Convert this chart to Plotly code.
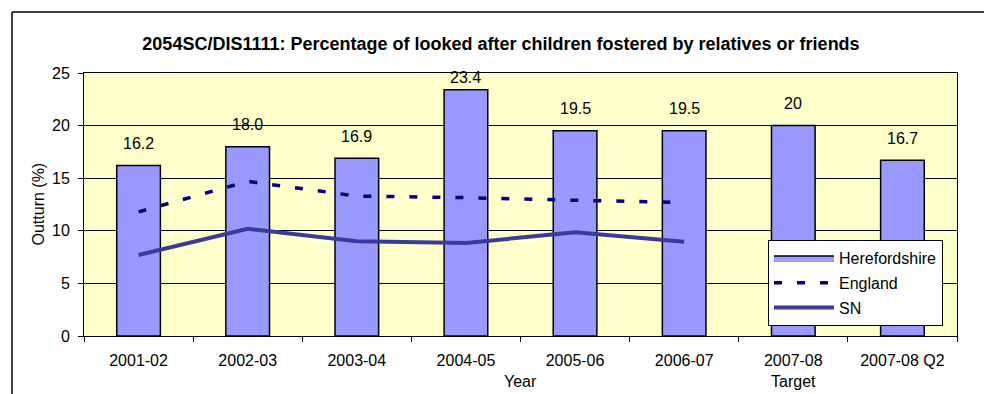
import plotly.graph_objects as go

categories = ["2001-02", "2002-03", "2003-04", "2004-05", "2005-06", "2006-07", "2007-08<br>Target", "2007-08 Q2"]
herefordshire = [16.2, 18.0, 16.9, 23.4, 19.5, 19.5, 20, 16.7]
herefordshire_labels = ["16.2", "18.0", "16.9", "23.4", "19.5", "19.5", "20", "16.7"]
england = [11.8, 14.7, 13.3, 13.15, 12.9, 12.7, None, None]
sn = [7.7, 10.2, 9.0, 8.85, 9.85, 8.95, None, None]

FONT = "Arial, Liberation Sans, sans-serif"
W, H = 984, 394
L, R, T, B = 84, 27, 73, 58
PW, PH = W - L - R, H - T - B

def px_x(p):
    return (p - L) / PW

def px_y(p):
    return (H - B - p) / PH

fig = go.Figure()
fig.add_trace(go.Bar(
    x=categories, y=herefordshire, name="Herefordshire", width=0.4,
    marker=dict(color="#9999FF", line=dict(color="#000000", width=1.5)),
    showlegend=False,
))
# legend-only proxy so the legend key is a wide filled box like the original
fig.add_trace(go.Scatter(
    x=[None], y=[None], name="Herefordshire", mode="lines", fill="toself",
    fillcolor="#9999FF", line=dict(color="#000000", width=1.5),
    legendgroup="a",
))
fig.add_trace(go.Scatter(
    x=categories, y=england, name="England", mode="lines",
    line=dict(color="#000080", width=3.5, dash="8px,15px"),
    legendgroup="b",
))
fig.add_trace(go.Scatter(
    x=categories, y=sn, name="SN", mode="lines",
    line=dict(color="#3A3A9C", width=4),
    legendgroup="c",
))

annotations = []
for c, v, t in zip(categories, herefordshire, herefordshire_labels):
    annotations.append(dict(
        x=c, y=min(v + 1.1, 23.6), text=t, showarrow=False,
        xref="x", yref="y", yanchor="bottom",
        font=dict(family=FONT, size=16, color="#000000"),
    ))
annotations.append(dict(
    x=0, y=0.5, xref="paper", yref="paper", xanchor="center", yanchor="middle",
    xshift=-(L - 38), text="Outturn (%)", textangle=-90, showarrow=False,
    font=dict(family=FONT, size=16, color="#000000"),
))
annotations.append(dict(
    x=0.5, y=0, xref="paper", yref="paper", xanchor="center", yanchor="middle",
    yshift=-(381 - (H - B)), text="Year", showarrow=False,
    font=dict(family=FONT, size=16, color="#000000"),
))

shapes = [
    dict(type="line", xref="paper", yref="paper", x0=px_x(12), x1=px_x(984), y0=px_y(12), y1=px_y(12),
         line=dict(color="#000000", width=1.5)),
    dict(type="line", xref="paper", yref="paper", x0=px_x(12), x1=px_x(12), y0=px_y(12), y1=px_y(394),
         line=dict(color="#000000", width=1.5)),
]

fig.update_layout(
    width=W, height=H,
    margin=dict(l=L, r=R, t=T, b=B, autoexpand=False),
    paper_bgcolor="#FFFFFF",
    plot_bgcolor="#FFFFCC",
    font=dict(family=FONT, size=16, color="#000000"),
    title=dict(
        text="<b>2054SC/DIS1111: Percentage of looked after children fostered by relatives or friends</b>",
        x=501 / W, xref="container", xanchor="center",
        y=1 - 44 / H, yref="container", yanchor="middle",
        font=dict(family=FONT, size=18, color="#000000"),
    ),
    showlegend=True,
    legend=dict(
        x=px_x(768), y=px_y(240), xanchor="left", yanchor="top",
        bgcolor="#FFFFFF", bordercolor="#000000", borderwidth=1,
        itemwidth=60, traceorder="grouped", tracegroupgap=1,
        font=dict(family=FONT, size=16, color="#000000"),
    ),
    annotations=annotations,
    shapes=shapes,
    bargap=0.6,
)
fig.update_xaxes(
    type="category", tickson="boundaries", ticks="outside", ticklen=5, tickcolor="#000000",
    showline=True, linecolor="#000000", linewidth=1, mirror=True,
    showgrid=False, ticklabelstandoff=10,
    tickfont=dict(family=FONT, size=16, color="#000000"),
)
fig.update_yaxes(
    range=[0, 25], tickvals=[0, 5, 10, 15, 20, 25], ticks="outside", ticklen=5, tickcolor="#000000",
    showline=True, linecolor="#000000", linewidth=1, mirror=True,
    showgrid=True, gridcolor="#000000", gridwidth=1, zeroline=False,
    ticklabelstandoff=5,
    tickfont=dict(family=FONT, size=16, color="#000000"),
)

fig.write_html("out.html")
